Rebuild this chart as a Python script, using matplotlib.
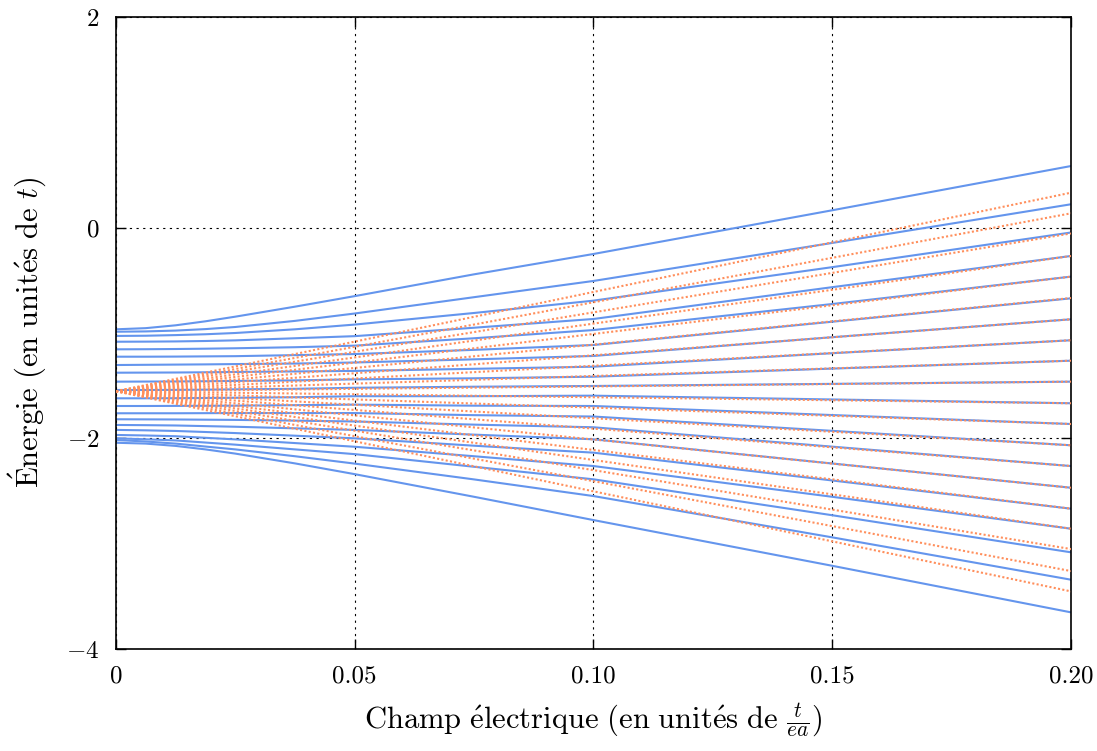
import numpy as np
import matplotlib
matplotlib.use("Agg")
import matplotlib.pyplot as plt

plt.rcParams['font.family'] = ['cmr10', 'DejaVu Serif']
plt.rcParams['mathtext.fontset'] = 'cm'
plt.rcParams['axes.unicode_minus'] = False

field = [0.0, 0.00625, 0.0125, 0.01875, 0.025, 0.0375, 0.05, 0.075, 0.10, 0.15, 0.20]

# energy levels (20 states, top to bottom) at each field value
e_f000 = [-0.965, -0.988, -1.028, -1.083, -1.155, -1.225, -1.304, -1.377, -1.462, -1.541,
          -1.620, -1.693, -1.762, -1.819, -1.873, -1.920, -1.968, -2.000, -2.016, -2.042]
e_f00625 = [-0.954, -0.985, -1.026, -1.082, -1.154, -1.225, -1.302, -1.376, -1.461, -1.541,
            -1.620, -1.693, -1.762, -1.820, -1.875, -1.924, -1.973, -2.009, -2.030, -2.050]
e_f0125 = [-0.927, -0.977, -1.020, -1.080, -1.152, -1.224, -1.300, -1.375, -1.460, -1.540,
           -1.619, -1.692, -1.762, -1.821, -1.878, -1.930, -1.980, -2.020, -2.050, -2.072]
e_f01875 = [-0.889, -0.963, -1.012, -1.076, -1.149, -1.222, -1.298, -1.373, -1.458, -1.538,
            -1.617, -1.691, -1.761, -1.823, -1.884, -1.940, -1.995, -2.040, -2.078, -2.105]
e_f025 = [-0.845, -0.943, -1.000, -1.070, -1.145, -1.220, -1.295, -1.370, -1.455, -1.535,
          -1.615, -1.690, -1.760, -1.825, -1.890, -1.950, -2.010, -2.060, -2.105, -2.145]
e_f0375 = [-0.750, -0.885, -0.965, -1.050, -1.135, -1.210, -1.290, -1.365, -1.450, -1.530,
           -1.610, -1.685, -1.760, -1.832, -1.905, -1.975, -2.045, -2.105, -2.170, -2.238]
e_f050 = [-0.650, -0.815, -0.920, -1.030, -1.120, -1.200, -1.280, -1.360, -1.440, -1.520,
          -1.600, -1.680, -1.760, -1.840, -1.920, -2.000, -2.080, -2.150, -2.240, -2.340]
e_f075 = [-0.443, -0.660, -0.810, -0.950, -1.050, -1.160, -1.250, -1.340, -1.430, -1.510,
          -1.600, -1.690, -1.780, -1.870, -1.965, -2.070, -2.170, -2.270, -2.390, -2.555]
e_f100 = [-0.250, -0.506, -0.693, -0.867, -0.972, -1.114, -1.218, -1.320, -1.415, -1.503,
          -1.595, -1.693, -1.793, -1.895, -2.009, -2.136, -2.263, -2.389, -2.548, -2.776]
e_f150 = [0.165, -0.145, -0.375, -0.565, -0.725, -0.893, -1.040, -1.192, -1.338, -1.483,
          -1.631, -1.779, -1.929, -2.079, -2.239, -2.400, -2.555, -2.730, -2.940, -3.210]
e_f200 = [0.585, 0.222, -0.046, -0.269, -0.465, -0.671, -0.870, -1.069, -1.263, -1.462,
          -1.667, -1.864, -2.066, -2.263, -2.469, -2.668, -2.858, -3.082, -3.342, -3.652]

# Wannier-Stark ladder (straight lines): common start and end values
ladder_x = [0.0, 0.20]
ladder_start = -1.553
ladder_end = [0.332, 0.136, -0.055, -0.269, -0.465, -0.668, -0.870, -1.069, -1.263, -1.462,
              -1.667, -1.864, -2.066, -2.263, -2.469, -2.668, -2.858, -3.051, -3.260, -3.453]

xticks = [0, 0.05, 0.10, 0.15, 0.20]
xticklabels = ['0', '0.05', '0.10', '0.15', '0.20']
yticks = [-4, -2, 0, 2]
yticklabels = ['$-4$', '$-2$', '0', '2']

fig = plt.figure(figsize=(10.97, 7.51), dpi=100)
ax = fig.add_axes([0.1057, 0.1358, 0.8706, 0.8416])

levels = np.array([e_f000, e_f00625, e_f0125, e_f01875, e_f025, e_f0375,
                   e_f050, e_f075, e_f100, e_f150, e_f200])
for i in range(levels.shape[1]):
    ax.plot(field, levels[:, i], color='#6495ED', lw=1.5, zorder=2)

for end in ladder_end:
    ax.plot(ladder_x, [ladder_start, end], color='#FF8F5C', lw=1.5,
            linestyle=(0, (1.0, 1.1)), dash_capstyle='butt', zorder=3)

ax.set_xlim(0, 0.2)
ax.set_ylim(-4, 2)
ax.set_xticks(xticks)
ax.set_xticklabels(xticklabels)
ax.set_yticks(yticks)
ax.set_yticklabels(yticklabels)
ax.tick_params(direction='in', length=7, width=1, top=True, right=True,
               labelsize=18, pad=12)
ax.grid(True, color='black', linestyle=(0, (2, 4)), linewidth=0.8)
ax.set_axisbelow(True)
for s in ax.spines.values():
    s.set_linewidth(1.2)

ax.set_xlabel(r'$\mathrm{Champ\ \acute{e}lectrique\ (en\ unit\acute{e}s\ de\ }\frac{t}{ea}\mathrm{)}$',
              fontsize=22, labelpad=10)
ax.set_ylabel(r'$\mathrm{\acute{E}nergie\ (en\ unit\acute{e}s\ de\ }t\mathrm{)}$',
              fontsize=22, labelpad=12)

fig.savefig('out.png', dpi=100)
